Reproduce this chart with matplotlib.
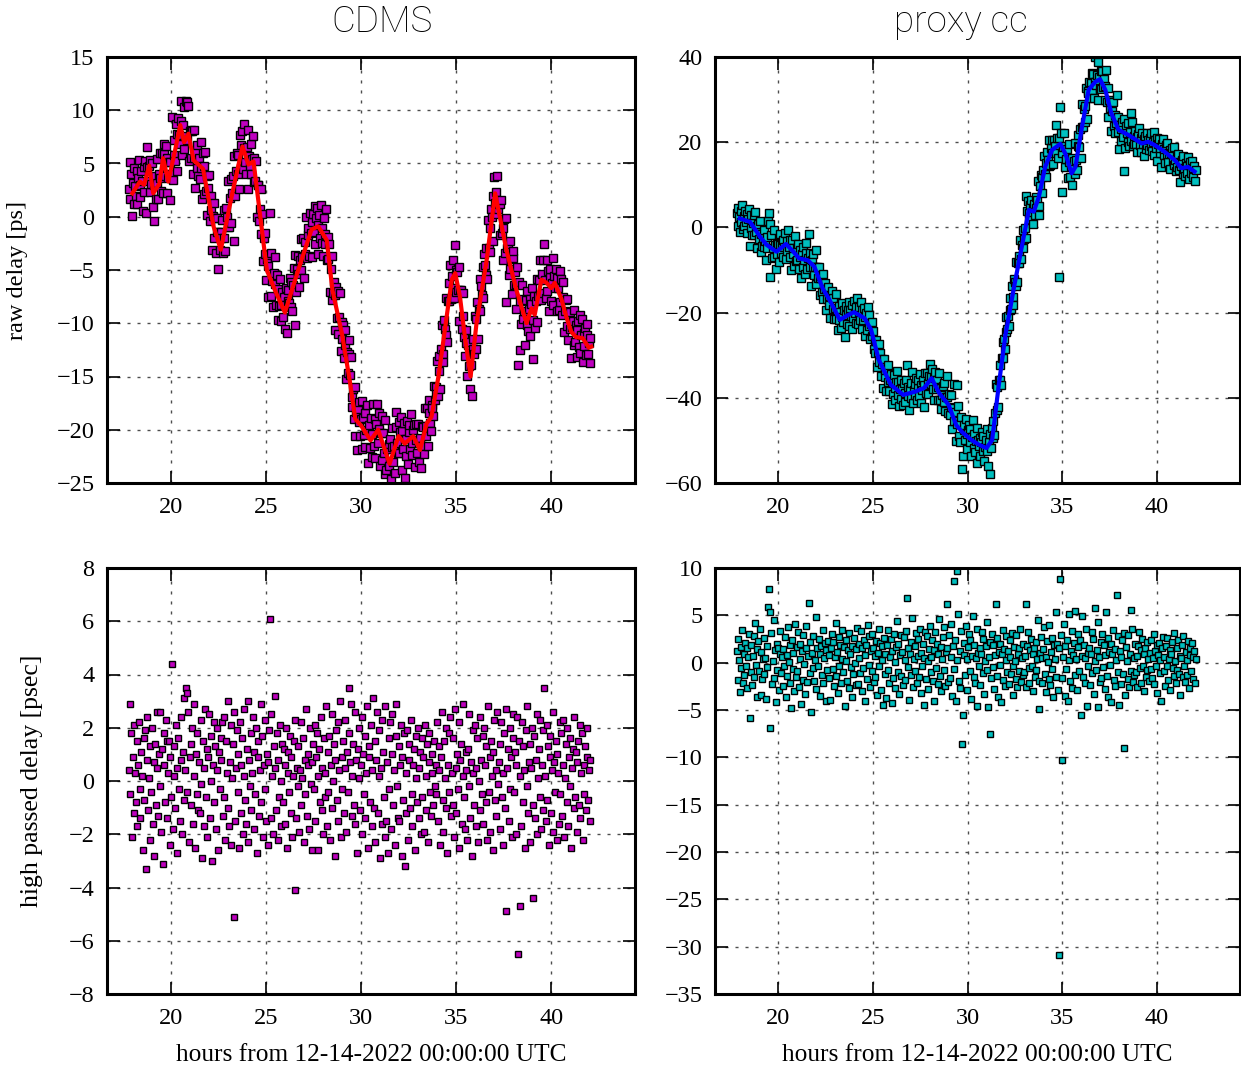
import numpy as np
import matplotlib
matplotlib.use("Agg")
import matplotlib.pyplot as plt

# ---------------- data ----------------
# delay samples: one every 0.0405 h starting at 17.80 h
sample_start = 17.80
sample_step = 0.0405

# smoothed delay curves (knot times in hours, values in ps)
cdms_trend_t = [17.98, 18.38, 18.6, 18.87, 19.08, 19.4, 19.6, 19.87, 20.2, 20.5,
                20.7, 20.93, 21.2, 21.7, 22.25, 22.63, 23.2, 23.77, 24.08, 24.35,
                25.05, 25.5, 26.0, 26.7, 27.4, 27.75, 28.2, 28.5, 29.0, 29.4,
                29.7, 30.0, 30.5, 30.9, 31.35, 31.5, 31.97, 32.3, 32.74, 33.1,
                33.45, 33.7, 34.07, 34.5, 34.77, 34.95, 35.2, 35.46, 35.76, 36.07,
                36.6, 37.05, 37.64, 38.17, 38.7, 38.96, 39.13, 39.48, 39.75, 40.0,
                40.18, 40.53, 40.79, 41.05, 41.3, 41.65, 41.97, 42.1]
cdms_trend_v = [2.2, 3.3, 3.0, 4.8, 2.2, 3.1, 5.5, 3.3, 6.0, 8.6,
                7.0, 7.8, 5.3, 4.5, -0.9, -3.1, 1.9, 6.6, 4.9, 5.2,
                -5.0, -7.0, -9.0, -5.0, -1.2, -0.9, -2.2, -6.9, -11.0, -15.3,
                -19.0, -19.6, -21.0, -20.0, -22.4, -23.2, -20.6, -21.3, -20.6, -21.9,
                -19.4, -18.8, -15.0, -9.4, -5.9, -5.3, -7.5, -11.3, -15.0, -10.0,
                -4.1, 2.2, -3.1, -6.9, -10.0, -8.6, -9.2, -5.9, -6.2, -6.7,
                -6.2, -7.7, -9.4, -10.8, -11.3, -11.4, -12.3, -12.2]

proxy_trend_t = [17.96, 18.5, 19.03, 19.38, 19.9, 20.4, 20.75, 21.1, 21.55, 21.9,
                 22.34, 22.7, 23.25, 23.67, 24.0, 24.55, 24.9, 25.3, 25.95, 26.6,
                 27.2, 27.7, 28.1, 28.5, 29.0, 29.4, 29.7, 30.2, 30.6, 31.0,
                 31.3, 31.65, 32.0, 32.46, 32.8, 33.24, 33.5, 33.77, 34.1, 34.47,
                 34.9, 35.16, 35.5, 35.7, 36.05, 36.4, 36.76, 37.0, 37.28, 37.6,
                 37.98, 38.5, 39.2, 39.55, 39.9, 40.4, 40.95, 41.3, 41.65, 42.0]
proxy_trend_v = [2.1, 1.3, -2.2, -4.1, -5.7, -3.9, -5.5, -7.3, -7.7, -9.2,
                 -14.3, -17.0, -21.7, -20.6, -19.9, -21.3, -24.0, -31.0, -37.0, -39.3,
                 -38.6, -37.7, -35.4, -38.9, -41.7, -46.4, -48.0, -49.9, -51.0, -51.8,
                 -49.9, -37.0, -25.3, -13.9, -6.1, 4.1, 3.7, 7.2, 14.2, 18.2,
                 19.6, 17.4, 12.7, 14.2, 23.6, 32.3, 34.2, 34.8, 32.3, 26.8,
                 22.9, 21.7, 19.7, 20.1, 19.3, 17.8, 15.8, 13.9, 14.2, 13.1]

# high-passed delay (ps), one value per sample
cdms_highpass = [
    0.4, 2.9, -0.5, 1.8, -2.1, 0.9, -1.2, 2.1, 0.3, -0.8, 1.5, -1.7, 0.6, 2.2, -0.3, -1.4, 1.1, 0.2, -2.6, 1.6,
    -0.7, 1.9, -3.3, 0.8, 2.4, -1.1, 0.1, -2.2, 1.3, -0.4, 2.0, -1.6, 0.7, -2.8, 1.4, -0.9, 0.5, 2.6, -1.3, 1.0,
    2.6, -0.2, -1.9, 1.2, -3.1, 0.6, 1.8, -0.8, 2.3, 1.5, -1.4, 0.3, 1.5, -2.4, 0.9, -0.6, 4.4, -1.8, 0.2, 1.3,
    -1.0, 2.1, -2.7, 0.5, 1.6, -0.3, -1.5, 2.4, 0.8, -2.0, 1.1, 3.1, -0.7, 0.4, 3.5, 3.3, -0.4, 2.6, -2.3, 0.9,
    1.4, -0.9, 2.0, -1.6, 0.2, 2.9, -2.5, 1.0, -0.5, 1.8, -1.1, 0.7, -1.2, 2.3, -0.1, -2.9, 1.5, 0.5, -1.7, 2.7,
    -0.6, 1.2, -2.1, 0.9, 2.5, -1.4, 0.0, 1.7, -3.0, 0.6, 2.2, -0.8, 1.3, -1.8, 0.4, 2.0, -2.6, 1.1, -0.3, 1.6,
    0.8, 2.2, -1.3, 2.4, -0.6, -2.2, 1.5, 0.3, -1.0, 3.0, -1.7, 0.7, 2.1, -2.4, 0.1, 1.4, -5.1, 2.6, -1.5, 0.5,
    1.9, -0.4, 1.0, -2.5, 2.2, -1.2, 0.6, 1.6, -2.0, 0.2, 2.7, -0.7, -1.6, 1.2, 3.0, -2.3, 0.8, -0.2, 1.8, -1.1,
    0.3, 2.4, -1.8, 1.1, -0.5, 2.0, -2.7, 0.9, 1.5, -1.3, 0.4, 2.9, -0.8, 1.7, -2.1, 0.6, -0.3, 2.3, -1.5, 1.0,
    -2.4, 0.7, 1.9, 6.1, 2.5, -1.4, 0.2, -2.0, 1.3, 0.5, 3.2, -1.1, 1.8, -2.2, 0.8, -0.6, 2.1, -1.7, 0.0, 1.4,
    -0.8, 1.2, -1.6, 0.6, 2.0, -2.5, 0.3, 1.1, -0.4, 1.7, -1.2, 0.9, -2.1, 0.2, 1.5, -4.1, 2.3, -1.4, 0.5, -0.2,
    1.3, -1.9, 0.4, 2.2, -0.9, 0.1, 1.6, -2.3, 0.8, -0.5, 2.7, -1.3, 0.6, 1.0, -1.8, 2.0, -0.1, 0.7, -2.6, 1.4,
    -0.3, 2.1, -1.5, 0.9, 1.8, -2.6, 0.2, 1.2, -0.8, 2.4, -1.1, 0.5, -2.0, 1.6, 0.3, -0.6, 2.8, -1.7, 1.1, -0.4,
    1.7, -2.2, 0.6, 2.5, -1.0, 0.0, 1.4, -2.8, 0.8, 1.9, -0.7, 2.2, -1.5, 0.4, 3.0, -2.1, 0.9, -0.3, 1.5, -1.2,
    0.5, 2.3, -1.9, 1.1, -0.4, 1.8, 3.5, 0.7, 2.9, -1.3, 0.2, 1.4, -0.9, 2.6, -1.6, 0.8, -2.7, 1.2, 0.1, 2.0,
    -1.1, 0.6, 2.4, -2.0, 1.0, -0.5, 1.7, -1.4, 0.3, 2.8, -2.5, 0.9, 1.3, -0.8, 2.1, -1.7, 0.4, 3.1, -1.0, 1.5,
    -2.3, 0.8, 2.6, -1.2, 0.2, 1.9, -2.9, 0.5, 2.3, -1.6, 1.1, -0.6, 2.8, -2.1, -1.5, 0.7, -2.7, 1.6, -0.3, 2.2,
    -1.8, 1.0, 2.5, -0.9, 0.4, -2.4, 1.7, 2.9, -0.2, -1.4, 1.3, -1.5, 0.6, 2.1, -2.8, 0.9, -0.7, 1.8, -3.2, -1.2,
    0.3, 1.9, -2.2, 0.8, 1.4, -1.0, 2.3, -0.5, -1.7, 0.6, 1.2, -2.6, 0.1, 1.7, -0.8, 2.0, -1.4, 0.5, 1.1, -2.0,
    1.6, -0.6, 0.9, -1.9, 2.1, 0.2, -1.1, 1.4, -2.3, 0.7, 1.8, -0.4, -1.3, 1.0, 0.3, -0.9, 1.5, -0.2, 0.6, -0.5,
    2.2, -1.5, 0.4, 1.3, -2.4, 0.9, 2.6, -0.7, -1.9, 1.5, 0.1, -1.0, 2.0, -2.7, 0.6, 1.8, -0.4, 2.4, -1.3, 0.3,
    -0.9, 1.6, -2.1, 2.7, 0.5, -1.2, 1.0, -0.3, 2.2, -2.5, 0.8, 1.4, -1.6, 0.2, 2.9, -0.6, -1.8, 1.1, 0.4, -2.2,
    1.2, -0.2, 2.5, -1.4, 0.7, -2.8, 1.9, 0.3, -0.9, 2.1, -1.7, 0.5, 1.6, -2.3, 0.0, 2.4, -1.1, 0.8, -0.5, 1.7,
    -1.6, 2.0, 0.6, -0.8, 1.3, -2.2, 2.8, -0.4, 0.9, -1.9, 1.5, 0.2, -2.6, 1.1, 2.3, -0.7, 0.4, -1.3, 2.6, -0.1,
    0.7, -1.8, 1.4, 2.2, -0.6, 0.3, -2.4, 1.8, -1.0, 2.7, -4.9, 0.5, 1.2, -1.5, 2.0, -0.3, 0.9, -2.1, 1.6, 2.5,
    -0.4, 1.1, -2.0, 0.6, 2.4, -6.5, 1.5, -4.7, 0.2, -1.7, 2.2, -0.8, 1.3, 0.4, -2.5, 1.9, -0.2, 2.8, -1.2, 0.7,
    1.4, -2.3, 0.5, 2.0, -0.9, -4.4, 1.7, -1.4, 0.8, 2.5, -2.0, 0.1, 1.2, -0.6, 2.3, -1.8, 0.6, 1.9, -1.1, 3.5,
    0.2, -1.5, 2.1, -0.7, 1.3, -2.4, 0.9, 1.7, -1.2, 0.4, 2.6, -1.9, 0.7, -0.4, 1.5, -2.2, 1.0, 0.3, -1.6, 2.2,
    -0.5, 1.8, -1.3, 0.6, 2.3, -2.1, 0.1, 1.4, -0.8, 2.0, -1.7, 0.9, -0.2, 1.6, -2.5, 0.5, 1.2, -1.0, 2.4, -0.6,
    1.1, -1.9, 0.7, 1.5, -0.9, 2.1, -1.4, 0.3, 1.8, -2.2, 0.6, -0.5, 1.3, -1.1, 0.9, 2.0, -0.7, 0.4, -1.5, 0.8,
]

proxy_highpass = [
    1.2, -1.8, 2.5, 0.3, -3.1, 1.7, -0.6, 3.4, -2.2, 0.9, -1.3, 2.1, -0.4, 1.5, -2.7, 0.6, 3.0, -5.8, 1.9, -1.0,
    -2.4, 0.7, 2.8, -1.5, 4.2, -0.2, 1.4, -3.6, 2.3, -0.9, 3.6, -3.4, 1.1, -1.7, 0.4, 2.6, -1.2, 0.5, -3.8, 1.8,
    -0.5, 5.9, 7.8, 5.4, -6.9, 3.1, -2.3, 0.2, 4.5, -1.6, 1.3, -4.2, 2.0, -0.8, 1.6, -2.9, 0.9, 3.3, -1.1, 0.6,
    -2.5, 1.4, -0.3, 2.7, -3.6, 0.8, -1.4, 3.8, 0.1, -2.1, 1.9, -4.8, 2.4, -0.7, 1.0, -3.0, 4.1, -1.5, 1.7, -0.9,
    3.2, -2.6, 0.4, 2.0, -4.4, 1.2, -1.8, 2.9, -0.1, -3.3, 1.5, 3.9, -2.0, 0.7, 6.3, -1.1, 2.2, -5.2, 1.0, -0.6,
    2.8, -1.9, 0.3, 4.8, -2.8, 1.6, -0.4, 2.5, -3.5, 0.9, 1.8, -1.3, 3.4, -2.2, 0.5, 2.1, -4.0, 1.3, -0.8, 2.3,
    -1.6, 0.8, -3.9, 1.5, 3.0, -0.7, 2.2, -2.5, 0.6, 4.2, -1.4, 1.1, -3.2, 2.7, -0.3, 1.9, -2.1, 0.4, 3.5, -1.0,
    1.7, -4.6, 2.4, 0.2, -1.9, 1.3, 3.1, -2.7, 0.9, -0.5, -3.6, 1.8, -1.2, 2.6, 0.0, -2.4, 1.4, 3.7, -2.3, 0.5,
    2.0, -1.1, 3.3, -3.0, 1.6, -0.6, 2.4, -4.1, 0.8, 1.9, -1.7, 4.0, -0.2, 2.8, -2.6, 1.2, -0.9, 3.0, 1.5, -2.0,
    0.7, -1.5, 2.3, -3.4, 1.0, 3.6, -0.4, 2.1, -2.9, 0.3, 1.8, -4.5, 2.6, -1.2, 0.9, -3.7, 1.9, -0.8, 3.4, -2.2,
    0.6, 2.5, -4.3, 1.2, -1.6, 3.0, 0.1, -2.7, 1.7, 4.4, -1.0, 2.0, -3.3, 0.8, 2.9, -1.4, 1.1, -2.4, 2.7, 0.3,
    -1.8, 3.3, 6.8, -0.5, 1.6, -3.9, 0.9, 2.2, -1.3, 4.7, -2.6, 0.4, 1.8, -0.9, 3.1, -2.1, 0.7, 2.5, -1.5, 3.6,
    -3.2, 1.0, -0.3, 2.0, -4.5, 0.5, 3.2, -1.7, 2.8, 0.2, -2.8, 1.4, 3.9, -1.0, 0.6, 2.4, -1.9, -4.1, 1.3, 3.2,
    -0.6, 2.0, -2.3, 0.9, 4.6, -1.4, 1.7, -3.0, 0.4, 2.7, -0.8, 3.8, -2.5, 1.1, 6.2, 1.5, -2.0, 2.9, -1.6, 0.6,
    4.1, -3.5, 1.8, -0.7, 8.6, 2.4, -4.0, 0.3, 9.7, 5.1, -1.9, 1.2, -2.7, 3.3, -8.6, -5.5, 0.8, 2.1, -1.3, 3.9,
    0.4, -2.9, 1.7, 3.0, -0.9, 2.4, -3.8, 0.7, 4.9, -1.5, 1.9, -2.2, 0.5, 3.6, -4.6, 1.0, -0.4, 1.6, -2.4, 0.9,
    3.2, -1.1, 2.5, -3.3, 0.2, 1.8, -0.8, 4.3, -4.7, 0.6, 2.2, -7.5, -1.6, 3.0, -0.5, 1.9, -2.8, 0.8, 6.2, -1.4,
    2.6, -3.6, 1.1, -0.2, 2.0, -4.2, 0.9, 3.4, -1.8, 1.4, -2.5, 0.3, 2.8, -1.0, 1.2, -2.3, 0.6, 2.4, -1.2, 3.1,
    -0.4, -3.4, 1.7, 0.2, -1.7, 2.9, -2.6, 0.9, 1.5, -0.9, 3.6, -2.0, 0.5, -1.3, 2.0, -1.0, 0.7, -2.6, 6.2, 1.8,
    3.2, -0.6, -2.1, 1.3, 2.5, -0.3, -3.0, 0.9, 1.6, -1.5, 2.2, -0.8, 0.4, 4.5, -1.9, -4.9, 1.0, 2.7, -2.2, 0.5,
    1.4, 3.8, -1.2, 0.6, -3.1, 2.3, 0.1, -1.7, 4.0, -2.4, 1.1, 2.6, -0.7, -3.6, 1.9, 0.4, 5.3, -1.5, 2.0, -2.9,
    -30.9, 1.5, 8.8, 2.9, -1.6, -10.3, 0.6, 4.1, -3.5, 1.8, -0.7, 2.4, -4.0, 0.3, 5.1, -1.9, 1.2, -2.7, 3.3, 0.8,
    2.1, -1.3, 5.5, 0.4, -2.9, 1.7, 3.0, -0.9, 2.4, -5.5, 0.7, 4.9, -1.5, 1.9, -2.2, 0.5, 3.6, -4.6, 1.0, -0.4,
    1.6, -2.4, 0.9, 3.2, -1.1, 2.5, -3.3, 0.2, 5.8, -0.8, 1.3, 4.3, -4.7, 0.6, -2.0, 2.2, -1.6, 3.0, -0.5, 1.9,
    -2.8, 0.8, 5.3, -1.4, 2.6, -3.6, 1.1, -0.2, 2.0, -4.2, 0.9, 3.4, -1.8, 1.4, -2.5, 0.3, 7.2, -1.0, 2.8, -4.5,
    1.2, -2.3, 0.6, 2.4, -1.2, 3.1, -9.0, -3.4, 1.7, 0.2, -1.7, 2.9, -2.6, 0.9, 5.6, -0.9, 3.6, -2.0, 0.5, -1.3,
    2.0, -1.0, 0.7, -2.6, 1.8, 3.2, -0.6, -2.1, 1.3, 2.5, -0.3, -3.0, 0.9, 1.6, -1.5, 2.2, -0.8, 0.4, -1.9, 1.0,
    -0.7, 2.4, -1.6, 0.5, 3.0, -2.3, 1.2, -0.4, 1.9, -3.2, 0.8, 2.1, -1.1, 0.3, -4.0, 1.5, 2.7, -0.9, 0.6, -2.5,
    1.8, -0.3, 2.6, -1.8, 0.4, 1.3, -2.9, 0.9, 2.2, -0.6, -1.4, 3.1, 0.2, -2.2, 1.6, -0.8, 2.4, -1.2, 0.7, -3.4,
    0.5, 1.9, -1.5, 2.8, -0.4, -2.0, 1.1, 0.3, -1.3, 2.3, -2.7, 0.8, 1.5, -0.9, 2.1, -1.7, 0.6, 1.2, -2.2, 0.4,
]

x_ticks = [20, 25, 30, 35, 40]
cdms_raw_ticks = list(range(-25, 16, 5))
proxy_raw_ticks = list(range(-60, 41, 20))
cdms_hp_ticks = list(range(-8, 9, 2))
proxy_hp_ticks = list(range(-35, 11, 5))

# raw delay = smooth trend + high-passed part
hours = sample_start + sample_step * np.arange(len(cdms_highpass))
cdms_raw = np.interp(hours, cdms_trend_t, cdms_trend_v) + np.array(cdms_highpass)
proxy_raw = np.interp(hours, proxy_trend_t, proxy_trend_v) + np.array(proxy_highpass)

# ---------------- figure ----------------
plt.rcParams["font.family"] = ["Liberation Serif", "DejaVu Serif"]
plt.rcParams["axes.unicode_minus"] = True

W, H = 1241, 1067
fig = plt.figure(figsize=(W / 100, H / 100), dpi=100)


def px_axes(left, top, right, bottom):
    return fig.add_axes([left / W, 1 - bottom / H, (right - left) / W, (bottom - top) / H])


ax_tl = px_axes(107, 57, 635, 483)
ax_tr = px_axes(715, 57, 1240, 483)
ax_bl = px_axes(107, 568, 635, 994)
ax_br = px_axes(715, 568, 1240, 994)


def style(ax, yticks, ylim):
    ax.set_xlim(16.65, 44.4)
    ax.set_ylim(*ylim)
    ax.set_xticks(x_ticks)
    ax.set_yticks(yticks)
    ax.tick_params(direction="in", length=9, width=1.2, top=True, right=True,
                   labelsize=17.5)
    ax.tick_params(axis="x", pad=10)
    ax.tick_params(axis="y", pad=9)
    ax.grid(True, color="0.3", linestyle=(0, (2.2, 5)), linewidth=1.0)
    ax.set_axisbelow(True)
    for s in ax.spines.values():
        s.set_linewidth(2.2)


marker_kw_top = dict(ls="none", marker="s", ms=5.2, mec="black", mew=1.0)
marker_kw_bot = dict(ls="none", marker="s", ms=4.0, mec="black", mew=1.0)

ax_tl.plot(hours, cdms_raw, mfc="m", **marker_kw_top)
ax_tl.plot(cdms_trend_t, cdms_trend_v, color="red", lw=3)
style(ax_tl, cdms_raw_ticks, (-25, 15))

ax_tr.plot(hours, proxy_raw, mfc="c", **marker_kw_top)
ax_tr.plot(proxy_trend_t, proxy_trend_v, color="blue", lw=3)
style(ax_tr, proxy_raw_ticks, (-60, 40))

ax_bl.plot(hours, cdms_highpass, mfc="m", **marker_kw_bot)
style(ax_bl, cdms_hp_ticks, (-8, 8))

ax_br.plot(hours, proxy_highpass, mfc="c", **marker_kw_bot)
style(ax_br, proxy_hp_ticks, (-35, 10))

ax_tl.set_ylabel("raw delay [ps]", fontsize=17.5)
ax_tl.yaxis.set_label_coords(-0.150, 0.5)
ax_bl.set_ylabel("high passed delay [psec]", fontsize=18.5)
ax_bl.yaxis.set_label_coords(-0.121, 0.5)

for ax in (ax_bl, ax_br):
    ax.set_xlabel("hours from 12-14-2022 00:00:00 UTC", fontsize=18.3)
    ax.xaxis.set_label_coords(0.5, -0.117)

title_font = dict(family=["Roboto", "Liberation Sans", "DejaVu Sans"], fontweight="light",
                  fontsize=26.5, ha="center", va="baseline")
fig.text(382 / W, 1 - 32 / H, "CDMS", **title_font)
fig.text(961 / W, 1 - 32 / H, "proxy cc", **title_font)

fig.savefig("out.png", dpi=100)
